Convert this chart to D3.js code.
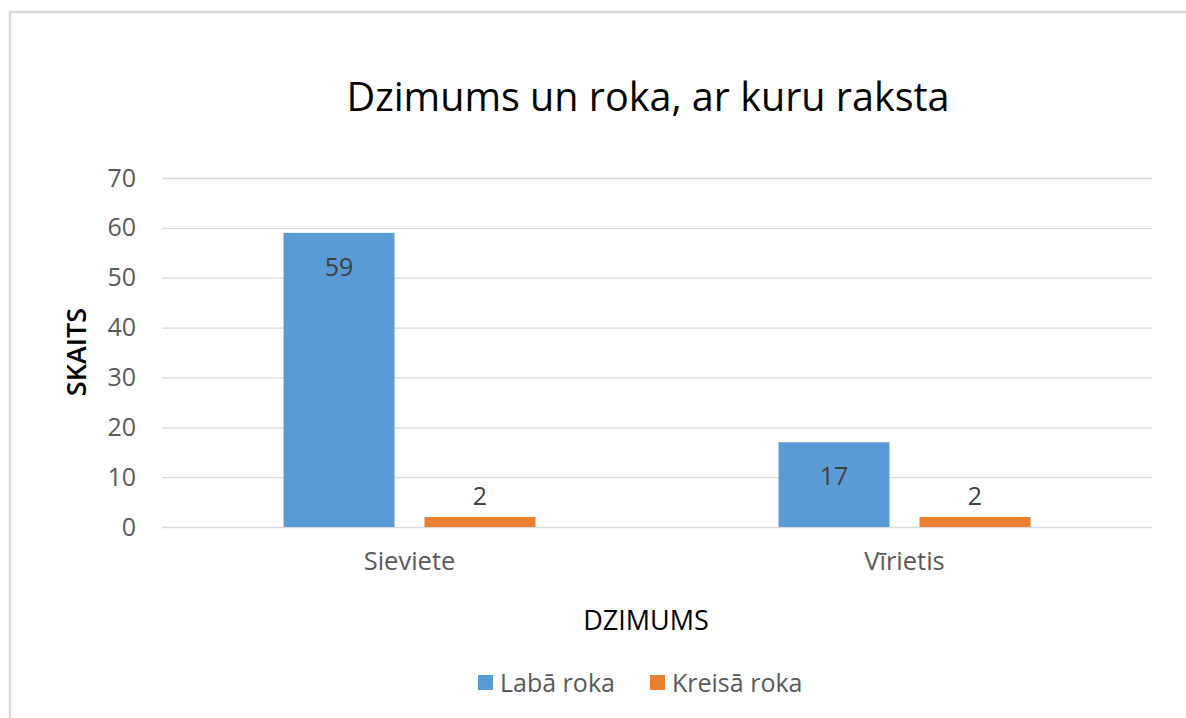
<!DOCTYPE html>
<html>
<head>
<meta charset="utf-8">
<title>Dzimums un roka</title>
<script src="https://d3js.org/d3.v7.min.js"></script>
<style>
	body { margin: 0; background: #fff; }
	text { font-family: "Open Sans", sans-serif; }
</style>
</head>
<body>
<script>

	// dati
	var groups = ["Sieviete", "Vīrietis"];
	var series = ["Labā roka", "Kreisā roka"];
	var labaRoka = [59, 17];
	var kreisaRoka = [2, 2];
	var yTicks = [0, 10, 20, 30, 40, 50, 60, 70];
	var colors = ["#5b9bd5", "#ed7d31"];

	var w = 1186, h = 718;
	var margin = { top: 178, right: 34, bottom: 191, left: 162 };
	var width = w - margin.left - margin.right;
	var height = h - margin.top - margin.bottom;

	var svg = d3.select("body").append("svg")
		.attr("width", w)
		.attr("height", h);

	// rāmis
	svg.append("rect")
		.attr("x", 10).attr("y", 12)
		.attr("width", w + 10).attr("height", h + 10)
		.attr("fill", "#fff")
		.attr("stroke", "#d9d9d9")
		.attr("stroke-width", 2.5);

	var chart = svg.append("g")
		.attr("transform", "translate(" + margin.left + "," + margin.top + ")");

	var x0 = d3.scaleBand().domain(groups).range([0, width]);
	var x1 = d3.scaleBand().domain(series).range([0, x0.bandwidth()])
		.paddingInner(0.213).paddingOuter(0.862);
	var y = d3.scaleLinear().domain([0, 70]).range([height, 0]);
	var z = d3.scaleOrdinal().domain(series).range(colors);

	// režģis
	chart.append("g")
		.call(d3.axisLeft(y).tickValues(yTicks).tickSize(-width).tickFormat(""))
		.call(function(g) { g.select(".domain").remove(); })
		.selectAll("line").attr("stroke", "#d9d9d9").attr("stroke-width", 1.3);

	// y ass
	chart.append("g")
		.call(d3.axisLeft(y).tickValues(yTicks).tickSize(0).tickPadding(26))
		.call(function(g) { g.select(".domain").remove(); })
		.selectAll("text")
		.attr("fill", "#595959")
		.style("font-size", "25px");

	// x ass
	chart.append("g")
		.attr("transform", "translate(0," + height + ")")
		.call(d3.axisBottom(x0).tickSize(0).tickPadding(25))
		.call(function(g) { g.select(".domain").remove(); })
		.selectAll("text")
		.attr("fill", "#595959")
		.style("font-size", "25.5px");

	var rows = groups.map(function(g, i) {
		return { group: g, values: [labaRoka[i], kreisaRoka[i]] };
	});

	var gg = chart.selectAll(".grp")
		.data(rows)
		.enter().append("g")
		.attr("class", "grp")
		.attr("transform", function(d) { return "translate(" + x0(d.group) + ",0)"; });

	gg.selectAll("rect")
		.data(function(d) { return d.values.map(function(v, i) { return { key: series[i], v: v }; }); })
		.enter().append("rect")
		.attr("x", function(d) { return x1(d.key); })
		.attr("y", function(d) { return y(d.v); })
		.attr("width", x1.bandwidth())
		.attr("height", function(d) { return height - y(d.v); })
		.attr("fill", function(d) { return z(d.key); });

	// vērtību etiķetes
	gg.selectAll(".lbl")
		.data(function(d) { return d.values.map(function(v, i) { return { key: series[i], v: v }; }); })
		.enter().append("text")
		.attr("class", "lbl")
		.attr("x", function(d) { return x1(d.key) + x1.bandwidth() / 2; })
		.attr("y", function(d) { return d.key === series[0] ? y(d.v) + 43 : y(d.v) - 12; })
		.attr("text-anchor", "middle")
		.attr("fill", "#404040")
		.style("font-size", "25px")
		.text(function(d) { return d.v; });

	// virsraksts
	svg.append("text")
		.attr("x", 648).attr("y", 111)
		.attr("text-anchor", "middle")
		.attr("fill", "#000")
		.style("font-size", "39.5px")
		.text("Dzimums un roka, ar kuru raksta");

	// asu nosaukumi
	svg.append("text")
		.attr("transform", "translate(86,352) rotate(-90)")
		.attr("text-anchor", "middle")
		.attr("fill", "#000")
		.style("font-size", "27px")
		.style("font-weight", "600")
		.text("SKAITS");

	svg.append("text")
		.attr("x", 646).attr("y", 630)
		.attr("text-anchor", "middle")
		.attr("fill", "#000")
		.style("font-size", "27px")
		.text("DZIMUMS");

	// leģenda
	var legX = [478, 650];
	var leg = svg.selectAll(".leg")
		.data(series)
		.enter().append("g")
		.attr("class", "leg")
		.attr("transform", function(d, i) { return "translate(" + legX[i] + ",675)"; });

	leg.append("rect")
		.attr("width", 15).attr("height", 15)
		.attr("fill", function(d) { return z(d); });

	leg.append("text")
		.attr("x", 22).attr("y", 17)
		.attr("fill", "#595959")
		.style("font-size", "25px")
		.text(function(d) { return d; });

</script>
</body>
</html>
